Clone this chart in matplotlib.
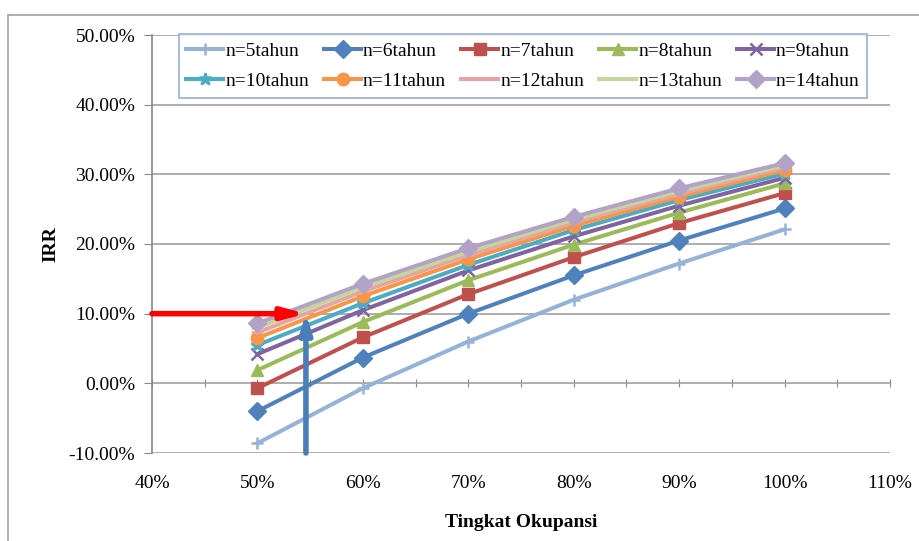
import matplotlib.pyplot as plt
import matplotlib.patches as patches
import numpy as np

# Data (IRR in %, occupancy in %)
occupancy = [50, 60, 70, 80, 90, 100]
labels = ['n=5tahun', 'n=6tahun', 'n=7tahun', 'n=8tahun', 'n=9tahun',
          'n=10tahun', 'n=11tahun', 'n=12tahun', 'n=13tahun', 'n=14tahun']
irr_n5 = [-8.6, -0.7, 6.0, 12.0, 17.2, 22.1]
irr_n6 = [-4.0, 3.7, 10.0, 15.5, 20.5, 25.1]
irr_n7 = [-0.7, 6.6, 12.8, 18.1, 23.0, 27.3]
irr_n8 = [1.9, 8.8, 14.8, 19.9, 24.5, 28.7]
irr_n9 = [4.2, 10.5, 16.2, 21.1, 25.5, 29.5]
irr_n10 = [5.5, 11.5, 17.0, 22.0, 26.3, 30.1]
irr_n11 = [6.5, 12.5, 17.8, 22.6, 26.8, 30.6]
irr_n12 = [7.3, 13.2, 18.4, 23.1, 27.2, 31.0]
irr_n13 = [8.0, 13.8, 18.9, 23.5, 27.6, 31.3]
irr_n14 = [8.6, 14.3, 19.4, 23.9, 28.0, 31.6]
series = [irr_n5, irr_n6, irr_n7, irr_n8, irr_n9,
          irr_n10, irr_n11, irr_n12, irr_n13, irr_n14]

# target IRR and occupancy read-off
target_irr = 10.0
target_occ = 54.6

colors = ['#95B3D7', '#4F81BD', '#C0504D', '#9BBB59', '#8064A2',
          '#4BACC6', '#F79646', '#E6A5A4', '#C3D69B', '#B3A2C7']
markers = ['+', 'D', 's', '^', 'x', '*', 'o', '_', '_', 'D']

plt.rcParams['font.family'] = ['Liberation Serif', 'DejaVu Serif']

fig = plt.figure(figsize=(9.19, 5.41), dpi=100)
ax = fig.add_axes([152 / 919, 1 - 453 / 541, 738 / 919, 418 / 541])

# outer chart frame
fig.patches.append(patches.Rectangle((8 / 919, -0.05), 1.1, 1 - 15 / 541 + 0.05,
                                     transform=fig.transFigure, fill=False,
                                     edgecolor='#A0A0A0', linewidth=1.2))

handles = []
for vals, lab, c, m in zip(series, labels, colors, markers):
    h, = ax.plot(occupancy, vals, color=c, linewidth=2.9, marker=m, markersize=9,
                 markeredgewidth=1.8 if m in ['+', 'x', '*', '_'] else 1,
                 markeredgecolor=c, label=lab)
    handles.append(h)

# arrows
ax.annotate('', xy=(target_occ, target_irr), xytext=(40, target_irr),
            arrowprops=dict(arrowstyle='-|>,head_width=0.35,head_length=1.3',
                            color='#FF0000', lw=4, shrinkA=0, shrinkB=0))
ax.annotate('', xy=(target_occ, target_irr), xytext=(target_occ, -10),
            arrowprops=dict(arrowstyle='-|>,head_width=0.35,head_length=1.1',
                            color='#4A7EBB', lw=4, shrinkA=0, shrinkB=0))

ax.set_xlim(40, 110)
ax.set_ylim(-10, 50)
ax.set_xticks(np.arange(40, 111, 10))
ax.set_xticklabels(['%d%%' % v for v in np.arange(40, 111, 10)], fontsize=14)
ax.set_yticks(np.arange(-10, 51, 10))
ax.set_yticklabels(['%.2f%%' % v for v in np.arange(-10, 51, 10)], fontsize=14)
ax.tick_params(axis='x', length=0, pad=16)
ax.tick_params(axis='y', length=6, direction='out', color='#888888', pad=6)
ax.grid(axis='y', color='#A0A0A0', linewidth=1.2)
ax.set_axisbelow(True)
for s in ['top', 'right', 'bottom']:
    ax.spines[s].set_visible(False)
ax.spines['left'].set_color('#888888')
ax.spines['left'].set_linewidth(1.2)

# horizontal axis line crossing at 0 with tick marks
sec = ax.secondary_xaxis(1 / 6)
sec.set_xticks(np.arange(40, 111, 5))
sec.set_xticklabels([])
sec.tick_params(length=6, direction='inout', color='#888888')
sec.spines['bottom'].set_visible(False)

ax.set_xlabel('Tingkat Okupansi', fontsize=14, fontweight='bold', labelpad=16)
ax.set_ylabel('IRR', fontsize=14, fontweight='bold', labelpad=7)

# legend filled row by row
order = [0, 5, 1, 6, 2, 7, 3, 8, 4, 9]
leg = ax.legend([handles[i] for i in order], [labels[i] for i in order],
                loc='upper left', bbox_to_anchor=(0.036, 1.002),
                ncol=5, fontsize=14, frameon=True, fancybox=False,
                handlelength=1.9, handletextpad=0.1, columnspacing=0.78,
                borderpad=0.4, labelspacing=0.65, borderaxespad=0)
leg.get_frame().set_edgecolor('#7F9DC8')
leg.get_frame().set_linewidth(1.2)

fig.savefig('out.png', dpi=100)
